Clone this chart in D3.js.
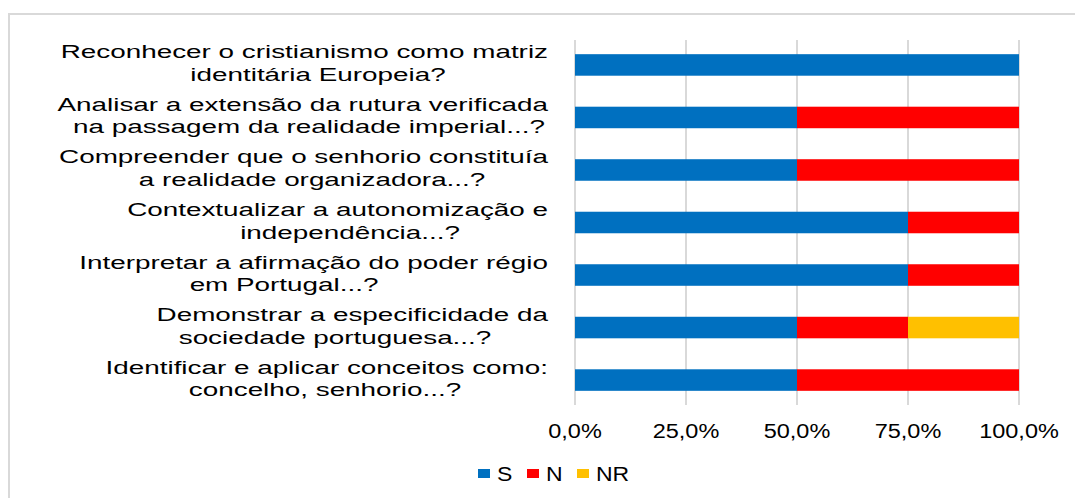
<!DOCTYPE html>
<html>
<head>
<meta charset="utf-8">
<script src="https://cdn.jsdelivr.net/npm/d3@7"></script>
<style>
  html, body { margin: 0; padding: 0; background: #fff; }
  svg { display: block; }
  text { font-family: "Liberation Sans", Arial, sans-serif; fill: #000; }
</style>
</head>
<body>
<svg id="chart" width="1075" height="498"></svg>
<script>
// ---- data ----
const categories = [
  ["Reconhecer o cristianismo como matriz", "identitária Europeia?"],
  ["Analisar a extensão da rutura verificada", "na passagem da realidade imperial...?"],
  ["Compreender que o senhorio constituía", "a realidade organizadora...?"],
  ["Contextualizar a autonomização e", "independência...?"],
  ["Interpretar a afirmação do poder régio", "em Portugal...?"],
  ["Demonstrar a especificidade da", "sociedade portuguesa...?"],
  ["Identificar e aplicar conceitos como:", "concelho, senhorio...?"]
];
const seriesNames = ["S", "N", "NR"];
const valuesS  = [100, 50, 50, 75, 75, 50, 50];
const valuesN  = [0, 50, 50, 25, 25, 25, 50];
const valuesNR = [0, 0, 0, 0, 0, 25, 0];
const tickValues = [0, 25, 50, 75, 100];
const colors = ["#0070C0", "#FF0000", "#FFC000"];

// ---- layout (not data) ----
const line2Centers = [318, 309, 312, 350, 284, 335, 325];

const svg = d3.select("#chart");

// outer chart border
svg.append("rect")
  .attr("x", 9).attr("y", 14).attr("width", 1200).attr("height", 600)
  .attr("fill", "#fff").attr("stroke", "#d9d9d9").attr("stroke-width", 2);

const plot = { left: 575, right: 1019, top: 40, bottom: 405 };
const keys = categories.map((c, i) => i);

const x = d3.scaleLinear().domain([0, 100]).range([plot.left, plot.right]);
const y = d3.scaleBand().domain(keys).range([plot.top, plot.bottom]).paddingInner(0.59).paddingOuter(0.27);

// gridlines
svg.append("g").selectAll("line").data(tickValues).join("line")
  .attr("x1", d => x(d)).attr("x2", d => x(d))
  .attr("y1", plot.top).attr("y2", plot.bottom)
  .attr("stroke", "#d9d9d9").attr("stroke-width", 2);

// stacked data
const rows = keys.map(i => ({ i, S: valuesS[i], N: valuesN[i], NR: valuesNR[i] }));
const stack = d3.stack().keys(seriesNames)(rows);

svg.append("g").selectAll("g").data(stack).join("g")
  .attr("fill", (d, k) => colors[k])
  .selectAll("rect").data(d => d.filter(p => p[1] - p[0] > 0)).join("rect")
  .attr("x", d => x(d[0]))
  .attr("width", d => x(d[1]) - x(d[0]))
  .attr("y", d => y(d.data.i))
  .attr("height", y.bandwidth());

// category labels
const labelSX = 1.465;
const lab = svg.append("g");
categories.forEach((lines, i) => {
  const cy = y(i) + y.bandwidth() / 2;
  lab.append("text")
    .attr("transform", `translate(548,${cy - 6.5}) scale(${labelSX},1)`)
    .attr("text-anchor", "end")
    .style("font-size", "19px")
    .text(lines[0]);
  lab.append("text")
    .attr("transform", `translate(${line2Centers[i]},${cy + 16}) scale(${labelSX},1)`)
    .attr("text-anchor", "middle")
    .style("font-size", "19px")
    .text(lines[1]);
});

// x axis tick labels
const fmt = v => d3.format(".1f")(v).replace(".", ",") + "%";
svg.append("g").selectAll("text").data(tickValues).join("text")
  .attr("transform", d => `translate(${x(d)},438) scale(1.12,1)`)
  .attr("text-anchor", "middle")
  .style("font-size", "21px")
  .text(d => fmt(d));

// legend
const legendX = [478, 527, 577];
const lg = svg.append("g").selectAll("g").data(seriesNames).join("g")
  .attr("transform", (d, k) => `translate(${legendX[k]},0)`);
lg.append("rect")
  .attr("x", 0).attr("y", 469).attr("width", 12).attr("height", 9)
  .attr("fill", (d, k) => colors[k]);
lg.append("text")
  .attr("transform", "translate(19,481) scale(1.15,1)")
  .style("font-size", "20px")
  .text(d => d);
</script>
</body>
</html>
